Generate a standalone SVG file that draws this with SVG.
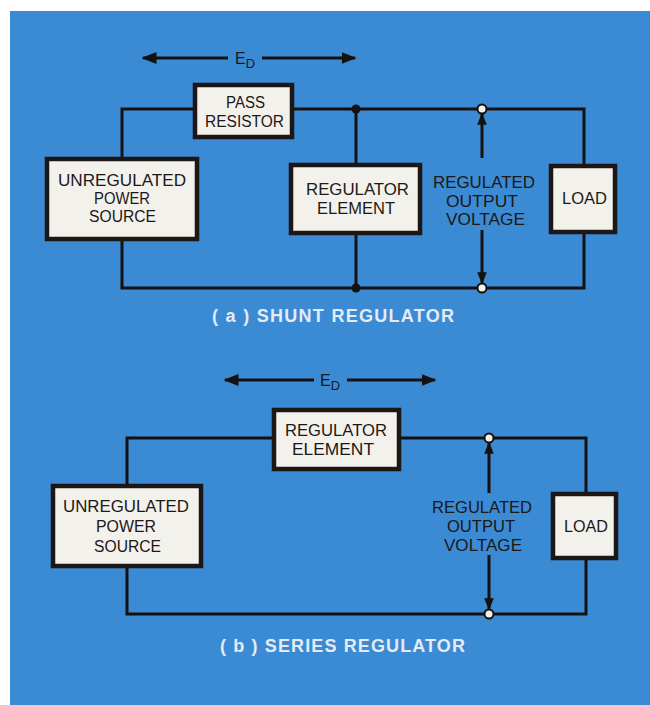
<svg xmlns="http://www.w3.org/2000/svg" width="650" height="705" viewBox="0 0 650 705">
<defs>
<style>
.box{fill:#f3f1ec;stroke:#1c1714;stroke-width:4.5}
.w{fill:none;stroke:#141210;stroke-width:3}
.t{font-family:"Liberation Sans",Arial,sans-serif;font-size:16px;fill:#1c1816;text-anchor:middle}
.c{font-family:"Liberation Sans",Arial,sans-serif;font-size:18px;font-weight:bold;fill:#e4ebf4}
.dot{fill:#141210}
.oc{fill:#f3f1ec;stroke:#141210;stroke-width:2}
</style>
<marker id="ah" viewBox="0 0 10 10" refX="9" refY="5" markerWidth="5" markerHeight="5" orient="auto-start-reverse" markerUnits="strokeWidth">
<path d="M0,1 L10,5 L0,9 Z" fill="#141210"/>
</marker>
<marker id="vh" viewBox="0 0 10 10" refX="9" refY="5" markerWidth="6" markerHeight="4" orient="auto-start-reverse" markerUnits="strokeWidth">
<path d="M0,1 L10,5 L0,9 Z" fill="#141210"/>
</marker>
</defs>
<rect x="0" y="0" width="650" height="705" fill="#ffffff"/>
<rect x="10" y="11" width="640" height="694" fill="#3b8ad4"/>

<!-- connectors -->
<g id="connectors">
<!-- (a) -->
<line class="w" x1="143" y1="58" x2="228" y2="58" marker-start="url(#ah)"/>
<line class="w" x1="262" y1="58" x2="355" y2="58" marker-end="url(#ah)"/>
<polyline class="w" points="122,157 122,109 194,109"/>
<polyline class="w" points="293,109 584,109 584,164"/>
<line class="w" x1="356" y1="109" x2="356" y2="163"/>
<line class="w" x1="356" y1="235" x2="356" y2="288"/>
<polyline class="w" points="122,240 122,288 584,288 584,234"/>
<line class="w" x1="482" y1="158" x2="482" y2="114" marker-end="url(#vh)"/>
<line class="w" x1="482" y1="230" x2="482" y2="283" marker-end="url(#vh)"/>
<circle class="dot" cx="356" cy="109" r="4.5"/>
<circle class="dot" cx="356" cy="288" r="4.5"/>
<circle class="oc" cx="482" cy="109" r="4.5"/>
<circle class="oc" cx="482" cy="288" r="4.5"/>
<!-- (b) -->
<line class="w" x1="225" y1="380" x2="314" y2="380" marker-start="url(#ah)"/>
<line class="w" x1="347" y1="380" x2="435" y2="380" marker-end="url(#ah)"/>
<polyline class="w" points="127,484 127,438 273,438"/>
<polyline class="w" points="399,438 586,438 586,492"/>
<polyline class="w" points="127,567 127,614 586,614 586,560"/>
<line class="w" x1="489" y1="493" x2="489" y2="443" marker-end="url(#vh)"/>
<line class="w" x1="489" y1="555" x2="489" y2="609" marker-end="url(#vh)"/>
<circle class="oc" cx="489" cy="438" r="4.5"/>
<circle class="oc" cx="489" cy="614" r="4.5"/>
</g>

<!-- (a) shunt -->
<g id="ed-a"><text class="t" x="245" y="64" font-size="17">E<tspan font-size="13" dy="4">D</tspan></text></g>
<g id="pass-resistor">
<rect class="box" x="195" y="85" width="97" height="52"/>
<text class="t" x="245.5" y="108" textLength="39" lengthAdjust="spacingAndGlyphs">PASS</text>
<text class="t" x="244.5" y="127" textLength="79" lengthAdjust="spacingAndGlyphs">RESISTOR</text>
</g>
<g id="unreg-a">
<rect class="box" x="47" y="159" width="150" height="80"/>
<text class="t" x="122" y="186" textLength="128" lengthAdjust="spacingAndGlyphs">UNREGULATED</text>
<text class="t" x="122" y="204" textLength="56" lengthAdjust="spacingAndGlyphs">POWER</text>
<text class="t" x="122.5" y="222" textLength="67" lengthAdjust="spacingAndGlyphs">SOURCE</text>
</g>
<g id="reg-element-a">
<rect class="box" x="291" y="165" width="129" height="68"/>
<text class="t" x="357.5" y="195" textLength="103" lengthAdjust="spacingAndGlyphs">REGULATOR</text>
<text class="t" x="356" y="214" textLength="78" lengthAdjust="spacingAndGlyphs">ELEMENT</text>
</g>
<g id="vout-a">
<text class="t" x="484" y="188" textLength="102" lengthAdjust="spacingAndGlyphs">REGULATED</text>
<text class="t" x="482" y="207" textLength="72" lengthAdjust="spacingAndGlyphs">OUTPUT</text>
<text class="t" x="485.5" y="225" textLength="79" lengthAdjust="spacingAndGlyphs">VOLTAGE</text>
</g>
<g id="load-a">
<rect class="box" x="551" y="166" width="64" height="66"/>
<text class="t" x="584.5" y="204" textLength="45" lengthAdjust="spacingAndGlyphs">LOAD</text>
</g>
<g id="caption-a"><text class="c" x="212" y="322" textLength="242">( a )  SHUNT REGULATOR</text></g>

<!-- (b) series -->
<g id="ed-b"><text class="t" x="330" y="386" font-size="17">E<tspan font-size="13" dy="4">D</tspan></text></g>
<g id="reg-element-b">
<rect class="box" x="274" y="410" width="125" height="59"/>
<text class="t" x="336" y="436" textLength="102" lengthAdjust="spacingAndGlyphs">REGULATOR</text>
<text class="t" x="333" y="455" textLength="82" lengthAdjust="spacingAndGlyphs">ELEMENT</text>
</g>
<g id="unreg-b">
<rect class="box" x="53" y="486" width="148" height="80"/>
<text class="t" x="126" y="512" textLength="126" lengthAdjust="spacingAndGlyphs">UNREGULATED</text>
<text class="t" x="126" y="532" textLength="60" lengthAdjust="spacingAndGlyphs">POWER</text>
<text class="t" x="127.5" y="552" textLength="67" lengthAdjust="spacingAndGlyphs">SOURCE</text>
</g>
<g id="vout-b">
<text class="t" x="482" y="513" textLength="100" lengthAdjust="spacingAndGlyphs">REGULATED</text>
<text class="t" x="481" y="532" textLength="68" lengthAdjust="spacingAndGlyphs">OUTPUT</text>
<text class="t" x="483" y="551" textLength="78" lengthAdjust="spacingAndGlyphs">VOLTAGE</text>
</g>
<g id="load-b">
<rect class="box" x="553" y="494" width="63" height="64"/>
<text class="t" x="586" y="532" textLength="44" lengthAdjust="spacingAndGlyphs">LOAD</text>
</g>
<g id="caption-b"><text class="c" x="220" y="652" textLength="245">( b )  SERIES REGULATOR</text></g>
</svg>
